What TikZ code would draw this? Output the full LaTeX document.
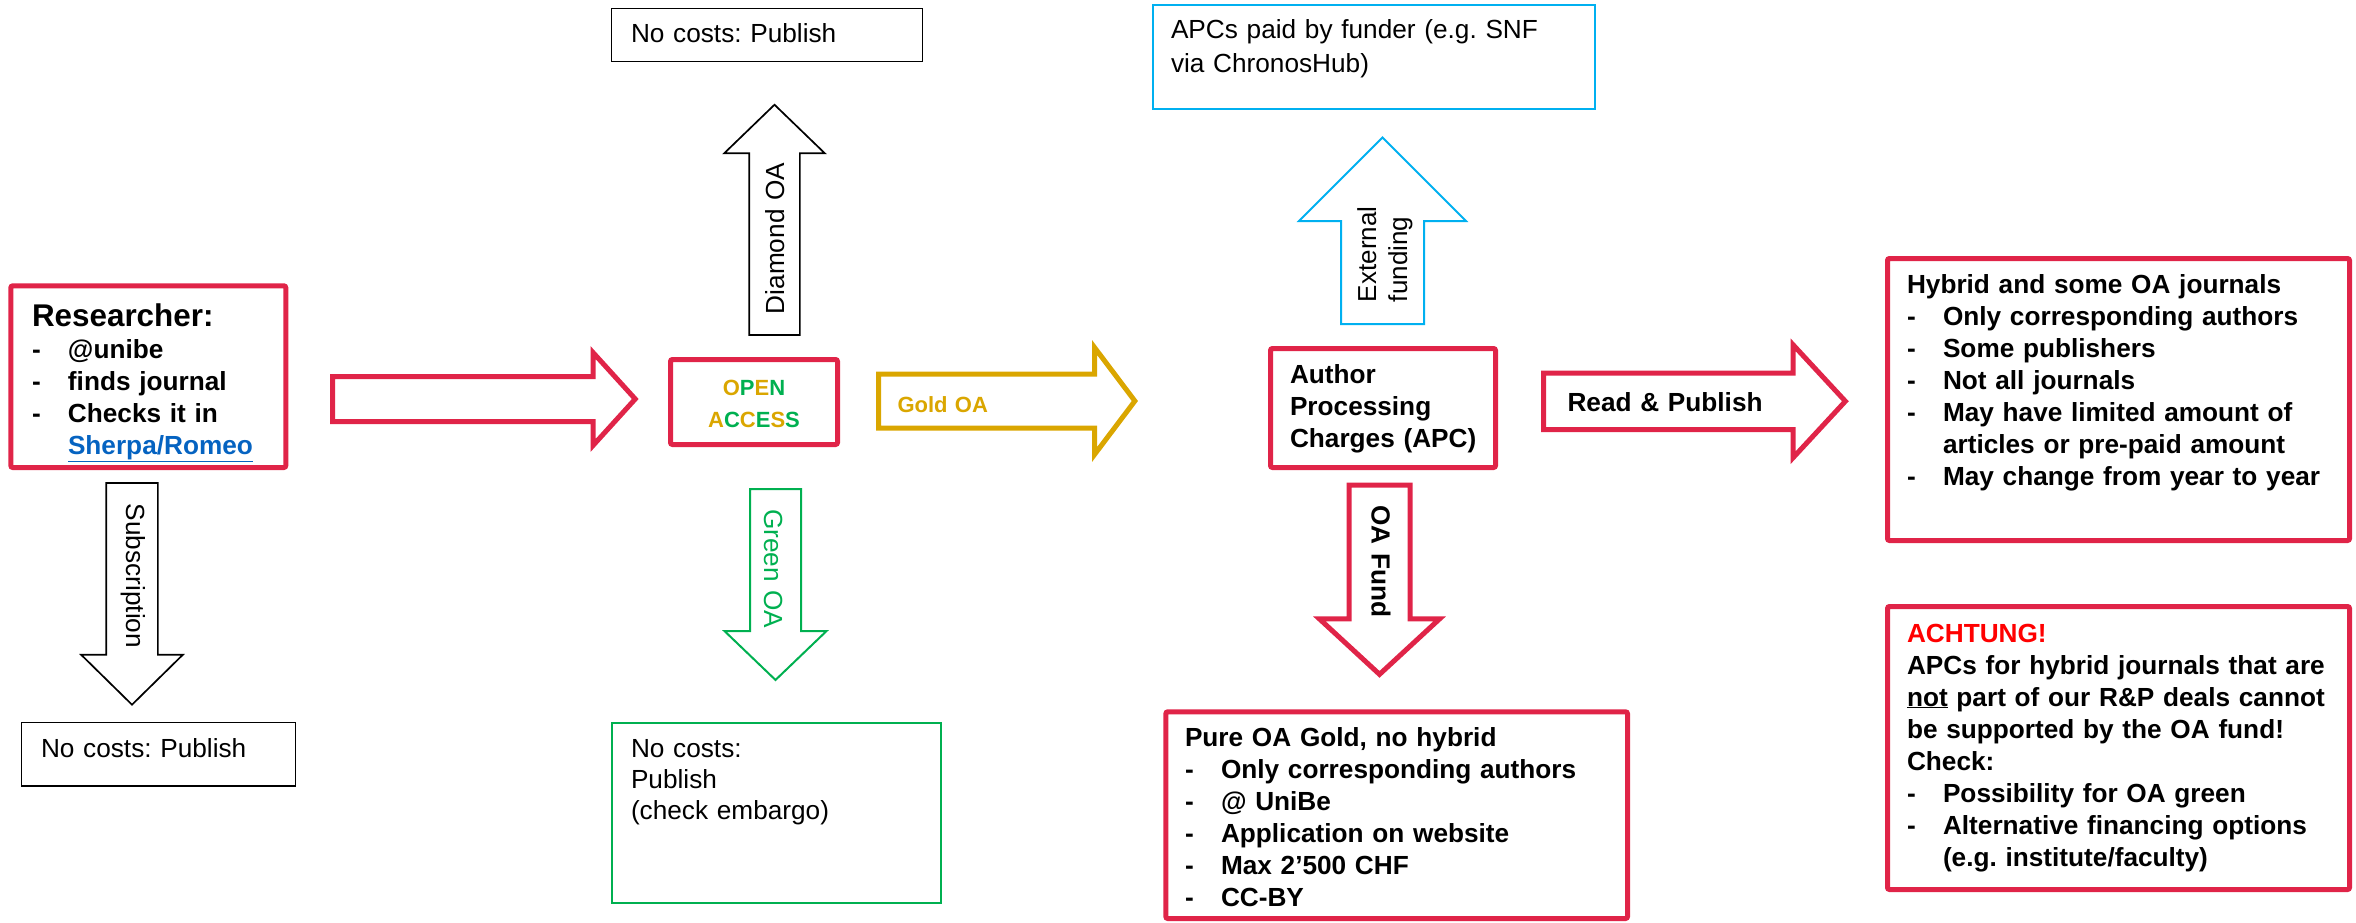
\documentclass[tikz,border=0pt]{standalone}
\usepackage{fontspec}
\setmainfont{Liberation Sans}
\usetikzlibrary{shapes.arrows}
\frenchspacing

\definecolor{uniRed}{RGB}{224,36,72}
\definecolor{oaGold}{RGB}{218,166,0}
\definecolor{oaGreen}{RGB}{0,176,80}
\definecolor{oaBlue}{RGB}{0,176,240}
\definecolor{linkBlue}{RGB}{5,99,193}
\definecolor{alertRed}{RGB}{255,0,0}

\newcommand{\dashitem}{\makebox[36pt][l]{-}}
\newcommand{\itemgap}{\hspace*{36pt}}

\tikzset{
  txtbox/.style={outer sep=0pt, inner ysep=0pt, align=left, anchor=base west},
  redbox/.style={txtbox, draw=uniRed, line width=5pt, rounded corners=2pt,
    font=\bfseries\fontsize{26.2}{32}\selectfont},
  thinbox/.style={txtbox, draw, line width=1.8pt, font=\fontsize{26.2}{32}\selectfont},
  blockarrow/.style={single arrow, draw, outer sep=0pt, inner sep=0pt, align=left, anchor=tail},
}

\begin{document}
\begin{tikzpicture}[x=1pt, y=-1pt]
\useasboundingbox (0,0) rectangle (2356,923);

% left column
\node[redbox, inner xsep=21.2pt, text width=232.6pt, text height=40.2pt, text depth=141.5pt] (researcher) at (10.8,326)
  {{\fontsize{31.4}{32}\selectfont Researcher:}\\
   \dashitem @unibe\\
   \dashitem finds journal\\
   \dashitem Checks it in\\
   \itemgap\textcolor{linkBlue}{\underline{Sherpa/Romeo}}};
\node[blockarrow, rotate=-90, line width=1.7pt, font=\fontsize{26.2}{32}\selectfont,
  text width=194.6pt, text height=31pt, text depth=19pt,
  single arrow head extend=25pt, single arrow tip angle=91] (subarrow) at (132,483)
  {\hspace*{20pt}\mbox{Subscription}};
\node[thinbox, inner xsep=19.5pt, text width=235pt, text height=34.5pt, text depth=29pt] (subbox) at (21.5,757)
  {No costs: Publish};
\node[blockarrow, draw=uniRed, line width=5pt, text width=277.3pt, text height=20pt, text depth=20pt,
  single arrow head extend=24pt, single arrow tip angle=95.5] (resarrow) at (332.5,399) {};

% open access column
\node[redbox, align=center, inner xsep=10pt, text width=147pt, text height=35.5pt, text depth=49.5pt,
  font=\bfseries\fontsize{22}{32}\selectfont] (oabox) at (670.5,395)
  {\textcolor{oaGold}{O}\textcolor{oaGreen}{P}\textcolor{oaGold}{E}\textcolor{oaGreen}{N}\\
   \textcolor{oaGold}{A}\textcolor{oaGreen}{C}\textcolor{oaGold}{C}\textcolor{oaGreen}{E}\textcolor{oaGold}{S}\textcolor{oaGreen}{S}};
\node[blockarrow, rotate=90, line width=1.7pt, font=\fontsize{26.2}{32}\selectfont,
  text width=204.1pt, text height=34.5pt, text depth=14.5pt,
  single arrow head extend=25pt, single arrow tip angle=92] (diamondarrow) at (774.5,335)
  {\hspace*{20pt}\mbox{Diamond OA}};
\node[thinbox, inner xsep=19.5pt, text width=272pt, text height=34.5pt, text depth=18.5pt] (diamondbox) at (611.5,43)
  {No costs: Publish};
\node[blockarrow, rotate=-90, draw=oaGreen, text=oaGreen, line width=2pt, font=\fontsize{26.2}{32}\selectfont,
  text width=164.5pt, text height=35.5pt, text depth=13.5pt,
  single arrow head extend=25.5pt, single arrow tip angle=92.4] (greenarrow) at (775.5,489)
  {\hspace*{19pt}\mbox{Green OA}};
\node[thinbox, draw=oaGreen, line width=2pt, font=\fontsize{26.2}{31}\selectfont,
  inner xsep=19.5pt, text width=290pt, text height=34.5pt, text depth=145.5pt] (greenbox) at (611.5,757)
  {No costs:\\Publish\\(check embargo)};
\node[blockarrow, draw=oaGold, text=oaGold, line width=5pt, font=\bfseries\fontsize{22}{26}\selectfont,
  text width=231pt, text height=35.5pt, text depth=13.5pt,
  single arrow head extend=26.5pt, single arrow tip angle=106] (goldarrow) at (878.5,401)
  {\hspace*{16.5pt}\mbox{Gold OA}};

% APC column
\node[redbox, inner xsep=19.5pt, text width=186pt, text height=34.5pt, text depth=84.5pt] (apcbox) at (1270.5,383)
  {Author\\Processing\\\mbox{Charges (APC)}};
\node[blockarrow, rotate=90, draw=oaBlue, line width=2pt, font=\fontsize{26}{31}\selectfont,
  text width=143pt, text height=34pt, text depth=47pt,
  single arrow head extend=42pt, single arrow tip angle=90] (extarrow) at (1382.5,324)
  {\hspace*{21pt}\mbox{External}\\\hspace*{21pt}\mbox{funding}};
\node[thinbox, draw=oaBlue, line width=2pt, font=\fontsize{26.2}{34}\selectfont,
  inner xsep=18.5pt, text width=405pt, text height=33.5pt, text depth=70.5pt] (funderbox) at (1152.5,39)
  {APCs paid by funder (e.g. SNF\\via ChronosHub)};
\node[blockarrow, rotate=-90, draw=uniRed, line width=5pt, font=\bfseries\fontsize{26.2}{32}\selectfont,
  text width=156.2pt, text height=36pt, text depth=20pt,
  single arrow head extend=29.5pt, single arrow tip angle=94.6] (fundarrow) at (1379.5,485)
  {\hspace*{18pt}\mbox{OA Fund}};
\node[redbox, inner xsep=19.2pt, text width=423.3pt, text height=34.2pt, text depth=172.5pt] (fundbox) at (1165.8,746)
  {Pure OA Gold, no hybrid\\
   \dashitem Only corresponding authors\\
   \dashitem @ UniBe\\
   \dashitem Application on website\\
   \dashitem Max 2’500 CHF\\
   \dashitem CC-BY};
\node[blockarrow, draw=uniRed, line width=5pt, font=\bfseries\fontsize{26.2}{32}\selectfont,
  text width=270.7pt, text height=35.5pt, text depth=16pt,
  single arrow head extend=28.25pt, single arrow tip angle=94.4] (rparrow) at (1543.5,401.25)
  {\hspace*{21.5pt}\mbox{Read \& Publish}};

% right column
\node[redbox, inner xsep=19.5pt, text width=423pt, text height=34.5pt, text depth=247.5pt] (hybridbox) at (1887.5,293)
  {Hybrid and some OA journals\\
   \dashitem Only corresponding authors\\
   \dashitem Some publishers\\
   \dashitem Not all journals\\
   \dashitem May have limited amount of\\
   \itemgap articles or pre-paid amount\\
   \dashitem May change from year to year};
\node[redbox, inner xsep=19.5pt, text width=423pt, text height=35.5pt, text depth=247.5pt] (achtungbox) at (1887.5,642)
  {\textcolor{alertRed}{ACHTUNG!}\\
   APCs for hybrid journals that are\\
   \underline{not} part of our R\&P deals cannot\\
   be supported by the OA fund!\\
   Check:\\
   \dashitem Possibility for OA green\\
   \dashitem Alternative financing options\\
   \itemgap (e.g. institute/faculty)};
\end{tikzpicture}
\end{document}
